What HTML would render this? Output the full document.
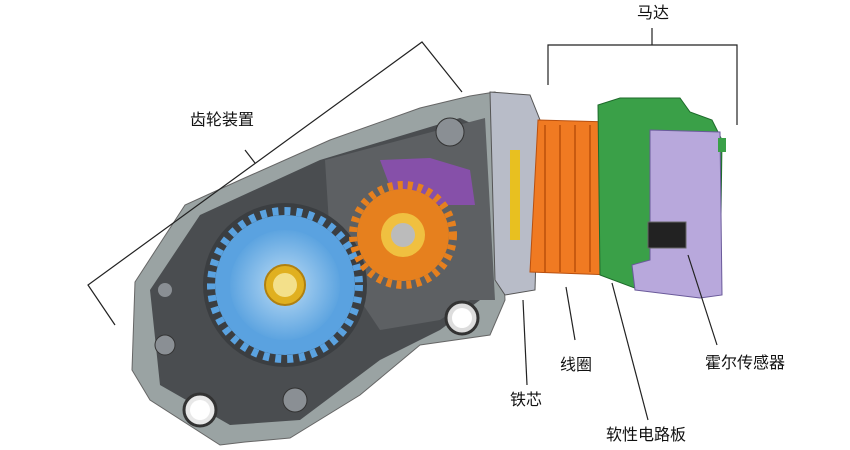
<!DOCTYPE html>
<html><head><meta charset="utf-8"><style>
html,body{margin:0;padding:0;background:#fff;width:850px;height:450px;overflow:hidden}
text{font-family:"Liberation Sans","Noto Sans CJK SC",sans-serif;font-size:16px;fill:#111}
</style></head><body>
<svg width="850" height="450" viewBox="0 0 850 450" xmlns="http://www.w3.org/2000/svg">
<defs>
<radialGradient id="bg1" cx="50%" cy="50%" r="50%"><stop offset="0" stop-color="#bcdcf5"/><stop offset="1" stop-color="#5da4e0"/></radialGradient>
</defs>
<!-- housing -->
<path d="M135,282 L185,205 L240,180 L330,140 L420,108 L470,96 L495,92 L505,300 L490,335 L420,345 L360,395 L290,438 L245,442 L220,445 L150,400 L132,370 Z" fill="#9aa3a3" stroke="#666" stroke-width="1"/>
<path d="M150,290 L200,215 L320,160 L460,118 L485,130 L480,300 L440,330 L380,360 L300,420 L230,425 L160,385 Z" fill="#4a4d50"/>
<path d="M325,160 L485,118 L495,300 L470,300 L440,320 L380,330 L360,300 L330,240 Z" fill="#5d6063"/>
<circle cx="450" cy="132" r="14" fill="#8a8f94" stroke="#333"/>
<circle cx="462" cy="318" r="16" fill="#ddd" stroke="#333" stroke-width="3"/>
<circle cx="462" cy="318" r="10" fill="#fff"/>
<circle cx="200" cy="410" r="16" fill="#e8e8e8" stroke="#333" stroke-width="3"/>
<circle cx="200" cy="410" r="10" fill="#fff"/>
<circle cx="295" cy="400" r="12" fill="#8a8f94" stroke="#333"/>
<circle cx="165" cy="345" r="10" fill="#8a8f94" stroke="#333"/>
<circle cx="165" cy="290" r="7" fill="#8a8f94"/>
<!-- blue gear -->
<circle cx="285" cy="285" r="82" fill="#3b3e41"/>
<g fill="#5aa2e0">
<circle cx="285" cy="285" r="70"/>
</g>
<g stroke="#5aa2e0" stroke-width="8" stroke-dasharray="6 6">
<circle cx="285" cy="285" r="74" fill="none"/>
</g>
<circle cx="285" cy="285" r="55" fill="url(#bg1)"/>
<circle cx="285" cy="285" r="20" fill="#e0b020" stroke="#b08010" stroke-width="2"/>
<circle cx="285" cy="285" r="12" fill="#f3e08a"/>
<!-- purple worm -->
<path d="M380,160 L430,158 L470,170 L475,205 L440,205 L395,200 Z" fill="#8b4fb0" opacity="0.9"/>
<!-- orange gear -->
<circle cx="403" cy="235" r="46" fill="#e6801e"/>
<circle cx="403" cy="235" r="50" fill="none" stroke="#e6801e" stroke-width="8" stroke-dasharray="5 5"/>
<circle cx="403" cy="235" r="22" fill="#f0c040"/>
<circle cx="403" cy="235" r="12" fill="#bbb"/>
<!-- motor flange -->
<path d="M490,92 L530,95 L540,120 L535,290 L505,295 L495,280 Z" fill="#b8bcc8" stroke="#555"/>
<rect x="510" y="150" width="10" height="90" fill="#e8c020"/>
<!-- coil -->
<path d="M538,120 L610,122 L612,275 L530,272 Z" fill="#f07a22" stroke="#b85010"/>
<g stroke="#c85a10" stroke-width="2">
<line x1="545" y1="125" x2="545" y2="272"/><line x1="560" y1="125" x2="560" y2="272"/><line x1="575" y1="125" x2="575" y2="272"/><line x1="590" y1="125" x2="590" y2="272"/>
</g>
<!-- green motor -->
<path d="M598,105 L620,98 L680,98 L690,112 L712,120 L722,140 L720,290 L640,290 L600,275 Z" fill="#3aa048" stroke="#1d6a2a"/>
<path d="M650,130 L720,132 L722,295 L700,298 L635,290 L632,265 L650,260 Z" fill="#b8a8dc" stroke="#6a5a9a"/>
<rect x="648" y="222" width="38" height="26" fill="#222" stroke="#666"/>
<rect x="718" y="138" width="8" height="14" fill="#3aa048"/>
<!-- brackets -->
<g stroke="#222" stroke-width="1.2" fill="none">
<polyline points="548,85 548,45 737,45 737,125"/>
<line x1="652" y1="45" x2="652" y2="28"/>
<polyline points="115,325 88,285 422,42 462,92"/>
<line x1="255" y1="163" x2="245" y2="150"/>
<line x1="566" y1="287" x2="575" y2="340"/>
<line x1="523" y1="300" x2="527" y2="385"/>
<line x1="612" y1="283" x2="648" y2="420"/>
<line x1="688" y1="255" x2="717" y2="345"/>
</g>
<text x="637" y="18">马达</text>
<text x="190" y="125">齿轮装置</text>
<text x="560" y="370">线圈</text>
<text x="510" y="405">铁芯</text>
<text x="606" y="440">软性电路板</text>
<text x="705" y="368">霍尔传感器</text>
</svg>
</body></html>
